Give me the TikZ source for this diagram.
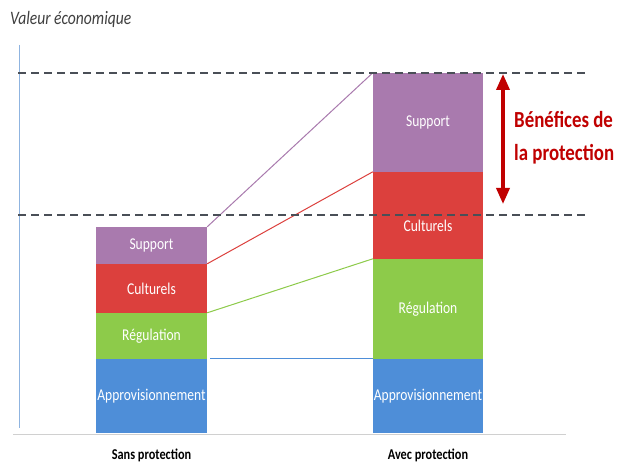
\documentclass[tikz,border=0pt]{standalone}
\usepackage{fontspec}
\setmainfont[FakeStretch=0.82]{Carlito}
\usetikzlibrary{arrows.meta}

\definecolor{supcol}{HTML}{A97AAE}
\definecolor{culcol}{HTML}{DC403D}
\definecolor{regcol}{HTML}{8DCB4A}
\definecolor{appcol}{HTML}{4E8ED8}
\definecolor{benred}{HTML}{C00000}
\definecolor{dashgray}{HTML}{4A4F57}
\definecolor{axisblue}{HTML}{8FB4E0}
\definecolor{basegray}{HTML}{D0D0D0}
\definecolor{titlegray}{HTML}{404040}

\tikzset{
  segfont/.style={text=white,font=\fontsize{16.5}{18}\selectfont},
  seg/.style={rectangle,inner sep=0pt,segfont},
  leftseg/.style={seg,minimum width=111pt},
  rightseg/.style={seg,minimum width=110pt},
  level/.style={dashgray,line width=2pt,dash pattern=on 8pt off 5pt},
  caption/.style={inner sep=0pt,font=\bfseries\fontsize{15}{17}\selectfont},
  bentext/.style={inner sep=0pt,align=left,text=benred,font=\bfseries\fontsize{23}{33}\selectfont},
  link/.style={line width=1pt}
}

\begin{document}
\begin{tikzpicture}[x=1pt,y=-1pt]
\useasboundingbox[fill=white] (0,0) rectangle (626,465);

\node[anchor=west,inner sep=0pt,text=titlegray,font=\itshape\fontsize{19}{21}\selectfont] (title) at (10,19) {Valeur économique};

\coordinate (axtop) at (19,45);
\coordinate (axbot) at (19,428);
\draw[axisblue,line width=1pt] (axtop) -- (axbot);
\coordinate (basel) at (13,434);
\coordinate (baser) at (566,434);
\draw[basegray,line width=1pt] (basel) -- (baser);

\node[leftseg,fill=appcol,minimum height=74pt] (appA) at (151.5,396) {Approvisionnement};
\node[leftseg,fill=regcol,minimum height=46pt] (regA) at (151.5,336) {Régulation};
\node[leftseg,fill=culcol,minimum height=49pt] (culA) at (151.5,288.5) {Culturels};
\node[leftseg,fill=supcol,minimum height=37pt] (supA) at (151.5,245.5) {Support};

\node[rightseg,fill=appcol,minimum height=74pt] (appB) at (428,396) {Approvisionnement};
\node[rightseg,fill=regcol,minimum height=100pt] (regB) at (428,309) {Régulation};
\node[rightseg,fill=culcol,minimum height=87pt,label={[segfont,yshift=-10pt]center:Culturels}] (culB) at (428,215.5) {};
\node[rightseg,fill=supcol,minimum height=99pt] (supB) at (428,122.5) {Support};

\draw[link,supcol] (supA.north east) -- (supB.north west);
\draw[link,culcol] (culA.north east) -- (culB.north west);
\draw[link,regcol] (regA.north east) -- (regB.north west);
\draw[link,appcol] ([xshift=3pt]appA.north east) -- (appB.north west);

\coordinate (hil) at (18,73);
\coordinate (hir) at (588,73);
\coordinate (lol) at (18,215);
\coordinate (lor) at (588,215);
\draw[level] (hil) -- (hir);
\draw[level] (lol) -- (lor);

\coordinate (arrtop) at (503,74);
\coordinate (arrbot) at (503,204);
\draw[benred,line width=3.5pt,{Triangle[length=16pt,width=13pt]}-{Triangle[length=16pt,width=13pt]}] (arrtop) -- (arrbot);
\node[bentext,anchor=west] (ben) at (514,138) {Bénéfices de\\la protection};

\node[caption] (sans) at (151.5,455) {Sans protection};
\node[caption] (avec) at (428,455) {Avec protection};
\end{tikzpicture}
\end{document}
